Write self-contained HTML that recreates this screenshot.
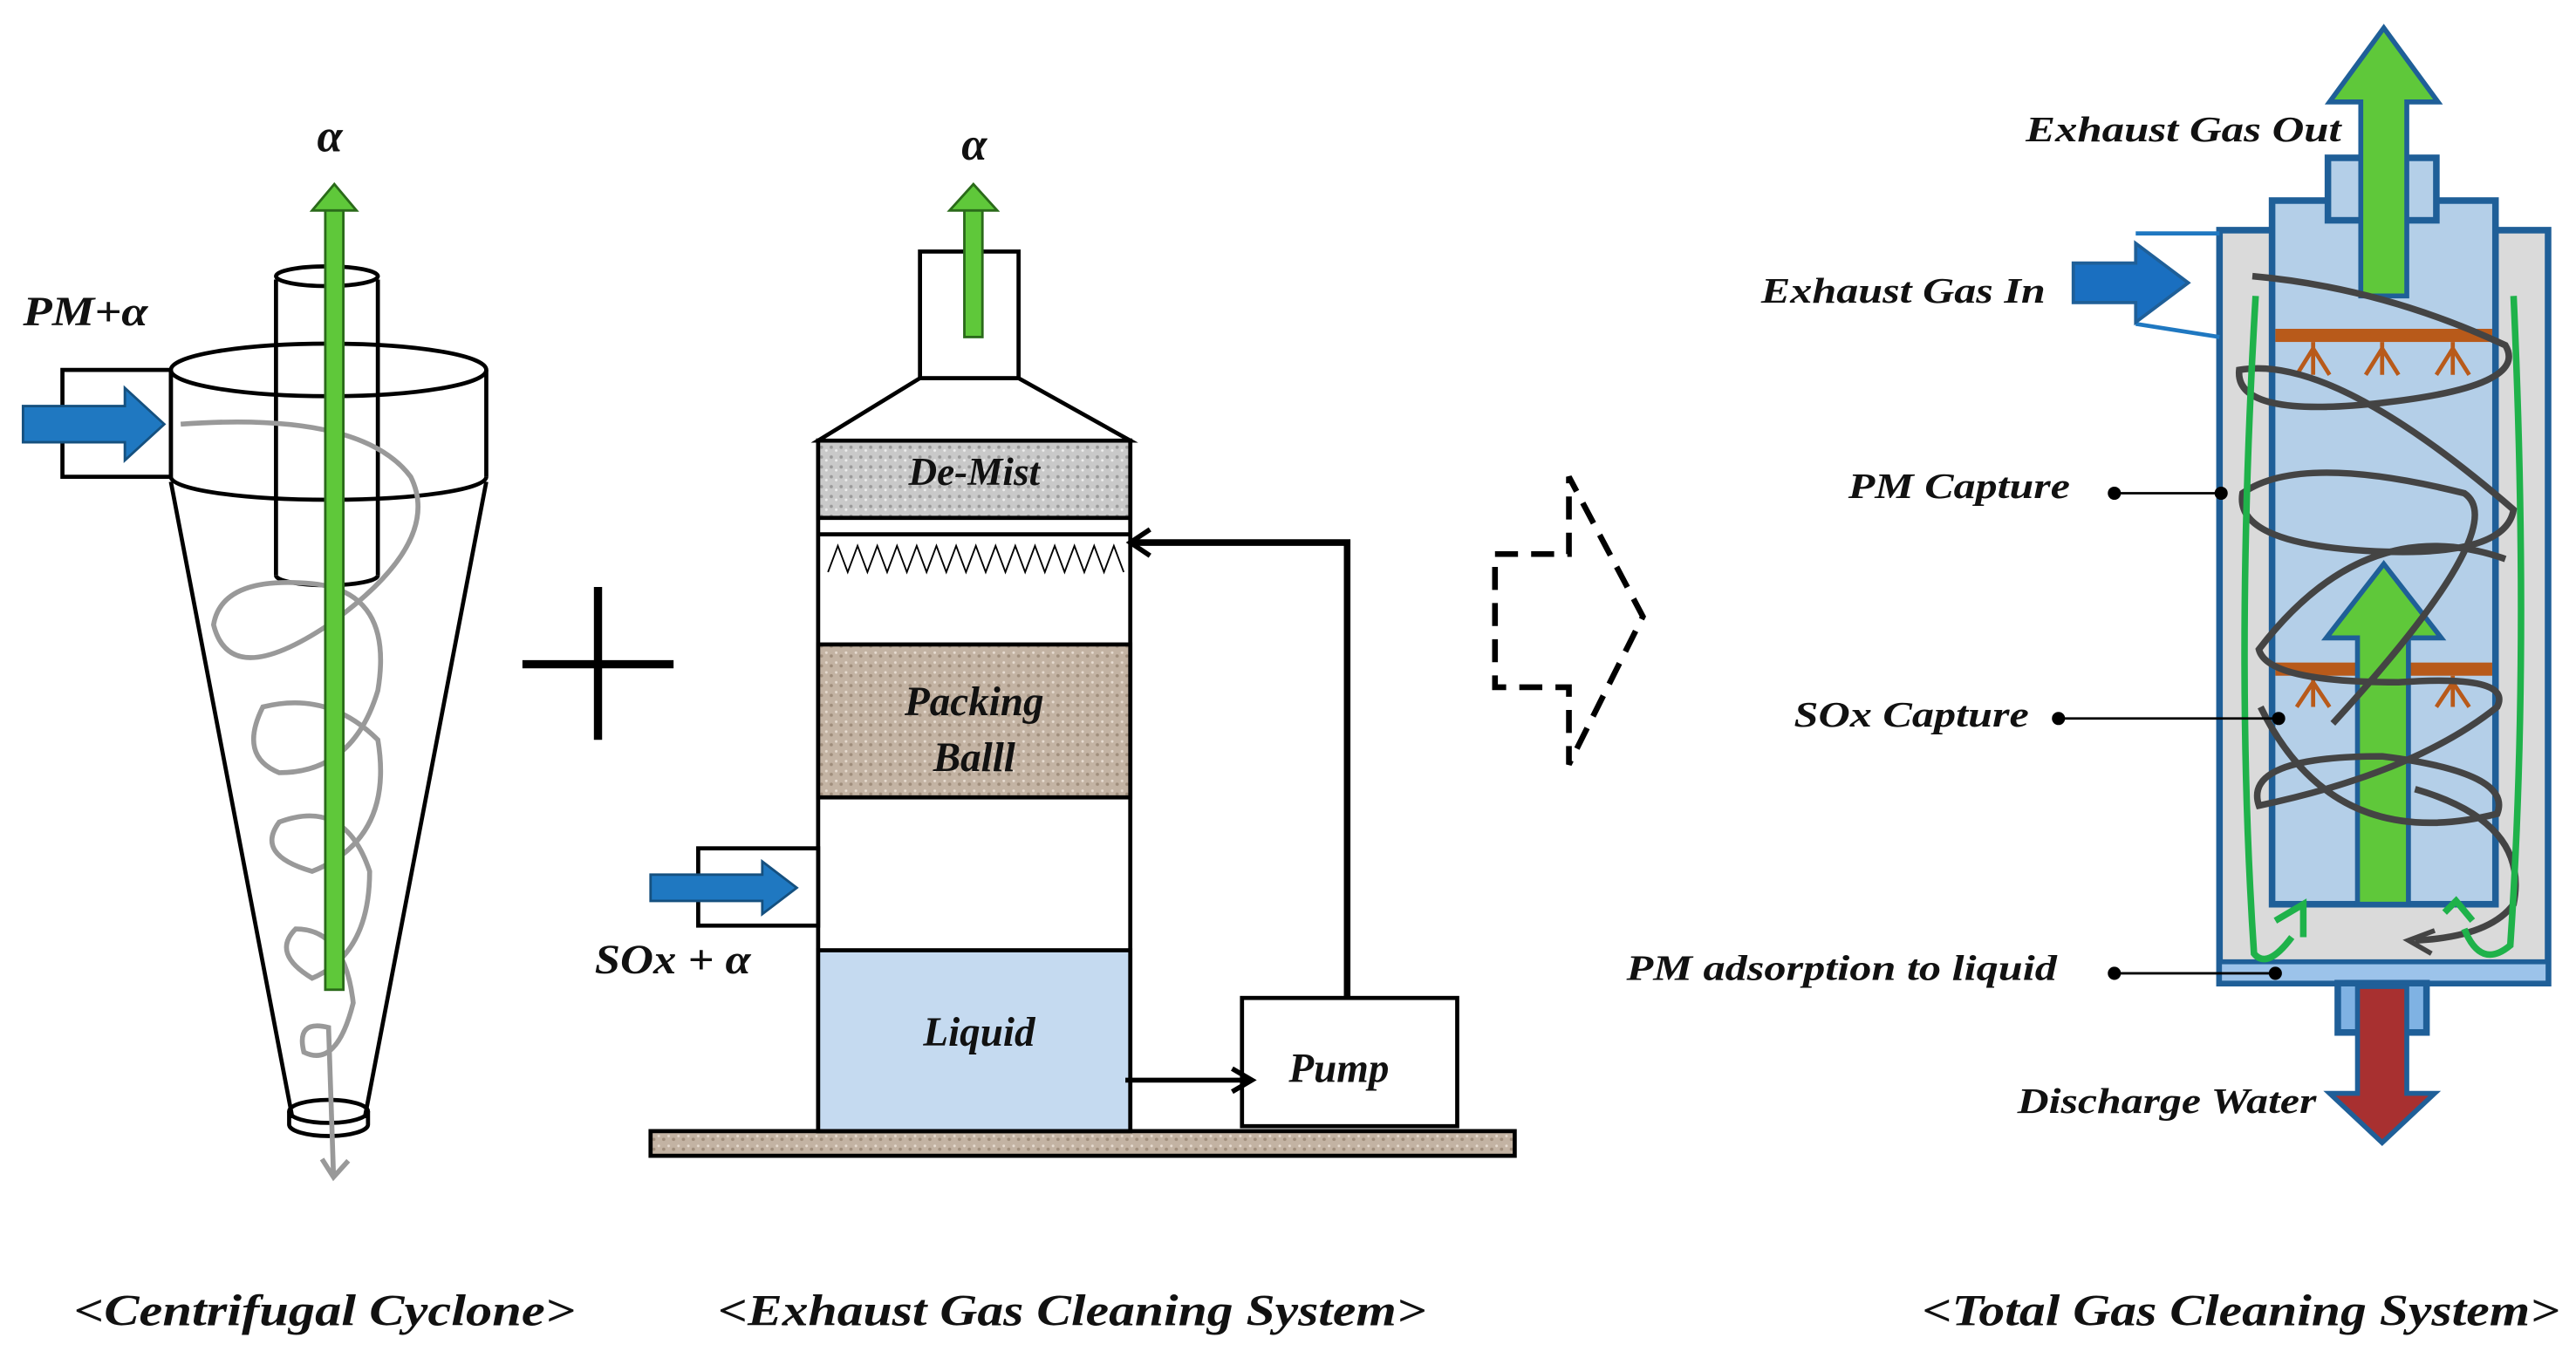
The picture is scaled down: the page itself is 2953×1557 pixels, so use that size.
<!DOCTYPE html>
<html><head><style>html,body{margin:0;padding:0;background:#fff}svg{display:block}
text{font-family:"Liberation Serif",serif;font-weight:bold;font-style:italic;fill:#111}</style></head>
<body>
<svg width="2953" height="1557" viewBox="0 0 1568 826" preserveAspectRatio="none" xmlns="http://www.w3.org/2000/svg">
<defs>
<pattern id="dm" width="6" height="6" patternUnits="userSpaceOnUse"><rect width="6" height="6" fill="#c9c9c9"/><circle cx="2" cy="2" r="1" fill="#9a9a9a"/><circle cx="5" cy="4" r=".8" fill="#eee"/></pattern>
<pattern id="pb" width="6" height="6" patternUnits="userSpaceOnUse"><rect width="6" height="6" fill="#c3b3a3"/><circle cx="2" cy="3" r="1" fill="#a08e7c"/><circle cx="5" cy="1" r=".8" fill="#e6dbd0"/></pattern>
</defs>
<!-- Cyclone -->
<g stroke="#000" stroke-width="2.5" fill="none">
<path d="M104 293 L178 680 M296 293 L222 680"/>
<rect x="104" y="225" width="192" height="68" fill="#fff" stroke="none"/>
<path d="M104 225 V290 M296 225 V290"/>
<path d="M104 290 A96 14 0 0 0 296 290"/>
<ellipse cx="200" cy="225" rx="96" ry="16"/>
<path d="M168 170 V350 M230 170 V350"/>
<ellipse cx="199" cy="168" rx="31" ry="6"/>
<path d="M168 350 A31 6 0 0 0 230 350"/>
<ellipse cx="200" cy="676" rx="24" ry="7"/>
<path d="M176 676 V684 A24 7 0 0 0 224 684 V676"/>
<rect x="38" y="225" width="66" height="65" fill="#fff"/>
</g>
<path d="M110 258 Q220 250 250 290 Q270 330 200 380 Q140 420 130 380 Q135 350 190 355 Q240 360 230 420 Q215 470 170 470 Q145 460 160 430 Q200 420 230 450 Q240 510 190 530 Q155 520 170 500 Q210 485 225 530 Q225 580 190 595 Q165 580 180 565 Q210 565 215 610 Q205 650 185 640 Q180 620 200 625 L203 715" stroke="#999" stroke-width="3" fill="none"/>
<path d="M196 705 L203 716 L212 706" stroke="#999" stroke-width="3" fill="none"/>
<rect x="198" y="126" width="11" height="476" fill="#5fc83a" stroke="#2a6a1a" stroke-width="1.5"/>
<polygon points="190,128 203.5,112 217,128" fill="#5fc83a" stroke="#2a6a1a" stroke-width="1.5"/>
<polygon points="14,247 76,247 76,236 100,258 76,280 76,269 14,269" fill="#1f78c1" stroke="#15507f" stroke-width="1.5"/>
<text x="14" y="198" font-size="25" textLength="76" lengthAdjust="spacingAndGlyphs">PM+α</text>
<text x="193" y="92" font-size="28">α</text>
<!-- plus -->
<path d="M318 404 H410 M364 357 V450" stroke="#000" stroke-width="5"/>
<!-- scrubber -->
<rect x="396" y="688" width="526" height="15" fill="url(#pb)" stroke="#000" stroke-width="2.5"/>
<rect x="498" y="268" width="190" height="420" fill="#fff" stroke="#000" stroke-width="2.5"/>
<rect x="498" y="268" width="190" height="47" fill="url(#dm)" stroke="#000" stroke-width="2.5"/>
<path d="M498 325 H688" stroke="#000" stroke-width="2.5"/>
<path d="M504 348 L510 332 L516 348 L522 332 L528 348 L534 332 L540 348 L546 332 L552 348 L558 332 L564 348 L570 332 L576 348 L582 332 L588 348 L594 332 L600 348 L606 332 L612 348 L618 332 L624 348 L630 332 L636 348 L642 332 L648 348 L654 332 L660 348 L666 332 L672 348 L678 332 L684 348" stroke="#000" stroke-width="1" fill="none"/>
<rect x="498" y="392" width="190" height="93" fill="url(#pb)" stroke="#000" stroke-width="2.5"/>
<rect x="498" y="578" width="190" height="110" fill="#c5daf0" stroke="#000" stroke-width="2.5"/>
<polygon points="560,230 620,230 688,268 498,268" fill="#fff" stroke="#000" stroke-width="2.5"/>
<rect x="560" y="153" width="60" height="77" fill="#fff" stroke="#000" stroke-width="2.5"/>
<rect x="587" y="125" width="11" height="80" fill="#5fc83a" stroke="#2a6a1a" stroke-width="1.5"/>
<polygon points="578,128 592.5,112 607,128" fill="#5fc83a" stroke="#2a6a1a" stroke-width="1.5"/>
<text x="593" y="97" font-size="28" text-anchor="middle">α</text>
<rect x="425" y="516" width="73" height="47" fill="#fff" stroke="#000" stroke-width="2.5"/>
<polygon points="396,532 464,532 464,524 485,540 464,556 464,548 396,548" fill="#1f78c1" stroke="#15507f" stroke-width="1.5"/>
<text x="362" y="592" font-size="25" textLength="95" lengthAdjust="spacingAndGlyphs">SOx + α</text>
<rect x="756" y="607" width="131" height="78" fill="#fff" stroke="#000" stroke-width="2.5"/>
<path d="M820 607 V330 H690" stroke="#000" stroke-width="4" fill="none"/>
<path d="M700 322 L688 330 L700 338" stroke="#000" stroke-width="3" fill="none"/>
<path d="M685 657 H760" stroke="#000" stroke-width="3"/>
<path d="M750 650 L762 657 L750 664" stroke="#000" stroke-width="3" fill="none"/>
<text x="593" y="295" font-size="24" text-anchor="middle">De-Mist</text>
<text x="593" y="435" font-size="25" text-anchor="middle">Packing</text>
<text x="593" y="469" font-size="25" text-anchor="middle">Balll</text>
<text x="596" y="636" font-size="25" text-anchor="middle">Liquid</text>
<text x="815" y="658" font-size="25" text-anchor="middle">Pump</text>
<!-- dashed arrow -->
<polygon points="910,337 955,337 955,290 1000,375 955,465 955,418 910,418" fill="none" stroke="#000" stroke-width="3.5" stroke-dasharray="14,8"/>
<!-- total system -->
<rect x="1351" y="140" width="200" height="458" fill="#dadada" stroke="#1f5f98" stroke-width="4"/>
<rect x="1383" y="122" width="136" height="428" fill="#b4cfe8" stroke="#1f5f98" stroke-width="4"/>
<rect x="1351" y="585" width="200" height="13" fill="#9cc3ea" stroke="#1f5f98" stroke-width="3"/>
<rect x="1417" y="96" width="66" height="38" fill="#b4cfe8" stroke="#1f5f98" stroke-width="4"/>
<rect x="1423" y="598" width="54" height="30" fill="#7fb2e3" stroke="#1f5f98" stroke-width="4"/>
<rect x="1385" y="200" width="132" height="8" fill="#b85a1a"/>
<rect x="1385" y="403" width="132" height="8" fill="#b85a1a"/>
<g stroke="#b85a1a" stroke-width="2.5" fill="none">
<path d="M1408 208 V228 M1398 228 L1408 212 L1418 228 M1450 208 V228 M1440 228 L1450 212 L1460 228 M1493 208 V228 M1483 228 L1493 212 L1503 228"/>
<path d="M1408 411 V430 M1398 430 L1408 415 L1418 430 M1450 411 V430 M1440 430 L1450 415 L1460 430 M1493 411 V430 M1483 430 L1493 415 L1503 430"/>
</g>
<polygon points="1435,550 1435,388 1416,388 1451,343 1486,388 1466,388 1466,550" fill="#5fc83a" stroke="#1f5f98" stroke-width="3"/>
<polygon points="1437,180 1437,62 1418,62 1451,17 1484,62 1465,62 1465,180" fill="#5fc83a" stroke="#1f5f98" stroke-width="3"/>
<polygon points="1435,600 1435,665 1418,665 1450,695 1482,665 1465,665 1465,600" fill="#a83030" stroke="#1f5f98" stroke-width="3"/>
<path d="M1371 168 Q1450 175 1525 210 Q1540 235 1450 245 Q1360 255 1363 225 Q1420 215 1530 310 Q1525 340 1440 335 Q1360 330 1365 300 Q1400 275 1500 300 Q1530 320 1420 440 M1525 340 Q1440 310 1375 395 Q1380 415 1460 415 Q1530 410 1520 430 Q1470 470 1375 490 Q1365 460 1450 460 Q1530 470 1520 495 Q1420 520 1376 430 M1470 480 Q1540 500 1530 550 Q1515 570 1470 572" stroke="#444" stroke-width="4" fill="none"/>
<path d="M1482 566 L1466 572 L1480 580" stroke="#444" stroke-width="3" fill="none"/>
<path d="M1373 180 Q1360 400 1372 580 Q1380 590 1395 570 M1385 560 L1402 550 L1402 570" stroke="#1fb24a" stroke-width="4" fill="none"/>
<path d="M1530 180 Q1540 400 1528 575 Q1510 590 1500 565 M1488 555 L1495 548 L1505 560" stroke="#1fb24a" stroke-width="4" fill="none"/>
<path d="M1300 142 H1351 M1300 197 L1351 205" stroke="#1f78c1" stroke-width="2.5"/>
<polygon points="1262,160 1300,160 1300,148 1332,172 1300,196 1300,184 1262,184" fill="#1a6fc0" stroke="#1f5f98" stroke-width="2"/>
<g fill="#000"><circle cx="1287" cy="300" r="4"/><circle cx="1352" cy="300" r="4"/><circle cx="1253" cy="437" r="4"/><circle cx="1387" cy="437" r="4"/><circle cx="1287" cy="592" r="4"/><circle cx="1385" cy="592" r="4"/></g>
<path d="M1287 300 H1352 M1253 437 H1387 M1287 592 H1385" stroke="#000" stroke-width="1.5"/>
<text x="1233" y="86" font-size="22" textLength="192" lengthAdjust="spacingAndGlyphs">Exhaust Gas Out</text>
<text x="1072" y="184" font-size="22" textLength="173" lengthAdjust="spacingAndGlyphs">Exhaust Gas In</text>
<text x="1125" y="303" font-size="22" textLength="135" lengthAdjust="spacingAndGlyphs">PM Capture</text>
<text x="1092" y="442" font-size="22" textLength="143" lengthAdjust="spacingAndGlyphs">SOx Capture</text>
<text x="990" y="596" font-size="22" textLength="262" lengthAdjust="spacingAndGlyphs">PM adsorption  to  liquid</text>
<text x="1228" y="677" font-size="22" textLength="182" lengthAdjust="spacingAndGlyphs">Discharge Water</text>
<text x="45" y="806" font-size="27" textLength="305" lengthAdjust="spacingAndGlyphs">&lt;Centrifugal Cyclone&gt;</text>
<text x="437" y="806" font-size="27" textLength="431" lengthAdjust="spacingAndGlyphs">&lt;Exhaust Gas Cleaning System&gt;</text>
<text x="1170" y="806" font-size="27" textLength="388" lengthAdjust="spacingAndGlyphs">&lt;Total Gas Cleaning System&gt;</text>
</svg>
</body></html>
